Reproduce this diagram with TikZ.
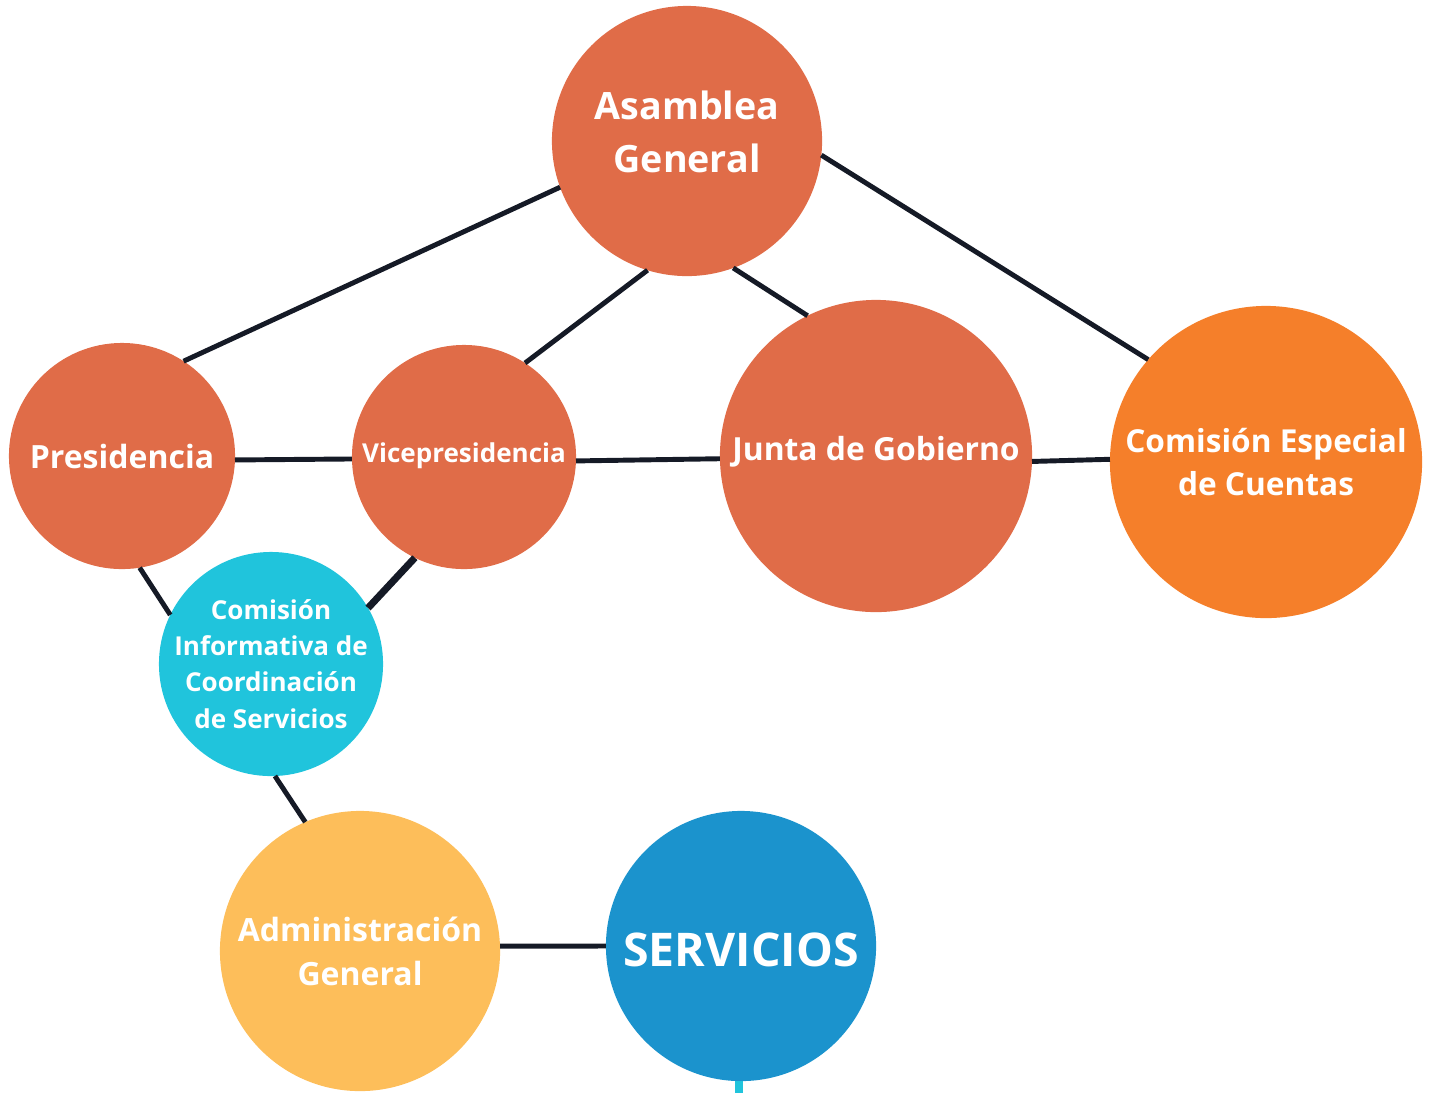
\documentclass[tikz,border=0pt]{standalone}
\usepackage{fontspec}
\setmainfont{Open Sans}
\usepackage{tikz}
\definecolor{rust}{HTML}{E06C48}
\definecolor{tangerine}{HTML}{F57F2A}
\definecolor{turq}{HTML}{20C4DC}
\definecolor{sand}{HTML}{FDBE5A}
\definecolor{ocean}{HTML}{1B93CD}
\definecolor{ink}{HTML}{151A26}
\tikzset{
  org/.style    = {shape=circle, inner sep=0pt, outer sep=0pt},
  organ/.style  = {org, fill=rust},
  special/.style= {org, fill=tangerine},
  inform/.style = {org, fill=turq},
  admin/.style  = {org, fill=sand},
  serv/.style   = {org, fill=ocean},
  txt/.style    = {align=center, text=white, inner sep=0pt},
  link/.style   = {draw=ink, line width=1.4pt}
}
\newcommand{\fs}[2]{\bfseries\fontsize{#1}{#2}\selectfont}
\begin{document}
\begin{tikzpicture}
  [
    x = 0.01cm,
    y = -0.01cm
  ]
  \useasboundingbox (0,0) rectangle (1431,1093);
  % nodes
  \node [organ, minimum size=2.7cm,
         label={[txt, font=\fs{10.7}{14.8}, yshift=2.6pt]center:Asamblea\\General}]
        (asamblea) at (687,141) {};
  \node [organ, minimum size=2.26cm,
         label={[txt, font=\fs{9.1}{11}]center:Presidencia}]
        (pres) at (122,456) {};
  \node [organ, minimum size=2.24cm,
         label={[txt, font=\fs{7.4}{9}, yshift=0.3pt]center:Vicepresidencia}]
        (vice) at (464,457) {};
  \node [organ, minimum size=3.12cm,
         label={[txt, font=\fs{9.05}{11}, yshift=1.2pt]center:Junta de Gobierno}]
        (junta) at (876,456) {};
  \node [special, minimum size=3.12cm,
         label={[txt, font=\fs{9}{12.5}]center:Comisión Especial\\de Cuentas}]
        (cuentas) at (1266,462) {};
  \node [inform, minimum size=2.24cm,
         label={[txt, font=\fs{7.4}{10.3}]center:Comisión\\Informativa de\\Coordinación\\de Servicios}]
        (cicos) at (271,664) {};
  \node [admin, minimum size=2.8cm,
         label={[txt, font=\fs{9.1}{12.5}]center:Administración\\General}]
        (admin) at (360,951) {};
  \node [serv, minimum size=2.7cm,
         label={[txt, font=\fs{13.2}{16}, yshift=-1pt]center:SERVICIOS}]
        (servicios) at (741,946) {};
  \coordinate (stub) at (739,1093);
  % links
  \path [link] (asamblea.200) -- (pres.57);
  \path [link] (asamblea.253) -- (vice.57);
  \path [link] (asamblea.290) -- (junta.116);
  \path [link] (asamblea.354) -- (cuentas.139);
  \path [link] (pres.358) -- (vice.181.5);
  \path [link] (vice.358.5) -- (junta.181.5);
  \path [link] (junta.358.5) -- (cuentas.179.3);
  \path [link] (pres.279) -- (cicos.154);
  \path [link, line width=2pt] (vice.244) -- (cicos.30);
  \path [link] (cicos.272) -- (admin.113);
  \path [link] (admin.2) -- (servicios.180);
  \path [draw=turq, line width=2pt] (servicios.south) ++(-2,0) -- (stub);
\end{tikzpicture}
\end{document}
